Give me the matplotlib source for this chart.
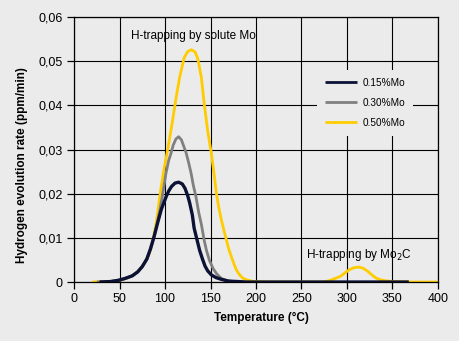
import matplotlib.pyplot as plt
from matplotlib.ticker import FuncFormatter

# readings (temperature in °C, rate in ppm/min)
t_015 = [28, 40, 49, 56, 64, 70, 75, 80, 84, 88, 92, 96, 101, 104, 107, 111, 115, 119, 122, 125,
         127, 130, 132, 135, 138, 141, 144, 147, 151, 156, 162, 170, 180, 190, 300, 368]
v_015 = [0, 0.0001, 0.0004, 0.0008, 0.0014, 0.0023, 0.0035, 0.0052, 0.0075, 0.0103, 0.0135, 0.0165,
         0.0192, 0.0206, 0.0216, 0.0224, 0.0226, 0.0222, 0.0212, 0.0195, 0.0180, 0.0152, 0.0122,
         0.0097, 0.0072, 0.0053, 0.0036, 0.0025, 0.0016, 0.0010, 0.0006, 0.0002, 0.0001, 0, 0, 0]

t_030 = [25, 40, 49, 56, 64, 70, 75, 80, 84, 88, 91, 94, 97, 99, 101, 104, 106.5, 109, 112, 115,
         118, 121, 123, 126, 128.7, 131, 134, 137, 140, 143, 145.5, 149, 153, 157, 162, 168, 175, 185]
v_030 = [0, 0.0001, 0.0004, 0.0008, 0.0014, 0.0023, 0.0035, 0.0052, 0.0075, 0.0103, 0.0130, 0.0160,
         0.0193, 0.0220, 0.0246, 0.0275, 0.0291, 0.0310, 0.0324, 0.0329, 0.0322, 0.0305, 0.0294,
         0.0270, 0.0246, 0.0220, 0.0193, 0.0158, 0.0130, 0.0095, 0.0072, 0.0048, 0.0030, 0.0018,
         0.0008, 0.0003, 0.0001, 0]

t_050 = [20, 35, 45, 52, 60, 68, 75, 82, 86, 90, 92, 95, 99, 102, 105, 108, 112, 116, 121, 125,
         129, 133, 136, 140, 143, 147, 151, 154.5, 156.5, 159, 162, 165, 167.5, 170, 173, 176,
         178.5, 182, 186, 191, 198, 220, 250, 275, 282, 287, 293, 298, 302, 307, 313, 318, 323,
         328, 332, 337, 342, 350, 370, 400]
v_050 = [0, 0.0001, 0.0002, 0.0005, 0.0010, 0.0020, 0.0035, 0.0060, 0.0088, 0.0130, 0.0158,
         0.0205, 0.0257, 0.0290, 0.0325, 0.0362, 0.0415, 0.0463, 0.0508, 0.0522, 0.0526, 0.0521,
         0.0506, 0.0463, 0.0405, 0.0341, 0.0290, 0.0235, 0.0200, 0.0170, 0.0140, 0.0115, 0.0095,
         0.0075, 0.0057, 0.0040, 0.0027, 0.0016, 0.0008, 0.0004, 0.0001, 0, 0, 0, 0.0004, 0.0008,
         0.0013, 0.0021, 0.0027, 0.0032, 0.0034, 0.0031, 0.0024, 0.0015, 0.0009, 0.0005, 0.0003,
         0.0001, 0, 0]

labels = ['0.15%Mo', '0.30%Mo', '0.50%Mo']
colors = ['#0c1236', '#808080', '#ffcc00']

bg = '#ebebeb'
plt.rcParams['font.family'] = ['Liberation Sans', 'DejaVu Sans']

fig = plt.figure(figsize=(4.6, 3.41), dpi=100, facecolor=bg)
ax = fig.add_axes([0.161, 0.173, 0.791, 0.777], facecolor=bg)

l3, = ax.plot(t_050, v_050, color=colors[2], lw=2.0, solid_capstyle='butt')
l2, = ax.plot(t_030, v_030, color=colors[1], lw=2.0, solid_capstyle='butt')
l1, = ax.plot(t_015, v_015, color=colors[0], lw=2.4, solid_capstyle='butt')

ax.set_xlim(0, 400)
ax.set_ylim(0, 0.06)
ax.set_xticks(range(0, 401, 50))
ax.set_yticks([0, 0.01, 0.02, 0.03, 0.04, 0.05, 0.06])
ax.yaxis.set_major_formatter(FuncFormatter(lambda v, p: '0' if v == 0 else f'{v:.2f}'.replace('.', ',')))
ax.grid(True, color='black', lw=0.8)
ax.set_axisbelow(True)
for s in ax.spines.values():
    s.set_color('black')
    s.set_linewidth(0.9)
ax.tick_params(direction='out', length=5, width=0.9, labelsize=9, colors='black', pad=3)

ax.set_xlabel('Temperature (°C)', fontsize=8.5, fontweight='bold')
ax.xaxis.set_label_coords(0.514, -0.113)
ax.set_ylabel('Hydrogen evolution rate (ppm/min)', fontsize=8.5, fontweight='bold')
ax.yaxis.set_label_coords(-0.126, 0.44)

ax.text(131, 0.0557, 'H-trapping by solute Mo', fontsize=8.5, ha='center', va='center')
ax.text(313, 0.0062, 'H-trapping by Mo$_2$C', fontsize=8.5, ha='center', va='center')

leg = ax.legend([l1, l2, l3], labels, loc='center', bbox_to_anchor=(0.8, 0.677), frameon=True,
                fontsize=7.2, handlelength=3.2, handletextpad=0.6, labelspacing=1.0,
                borderpad=0.8, borderaxespad=0)
leg.get_frame().set_facecolor(bg)
leg.get_frame().set_edgecolor('none')
leg.get_frame().set_alpha(1)
for h in leg.get_lines():
    h.set_linewidth(2.0)

fig.savefig('out.png', dpi=100, facecolor=bg)
